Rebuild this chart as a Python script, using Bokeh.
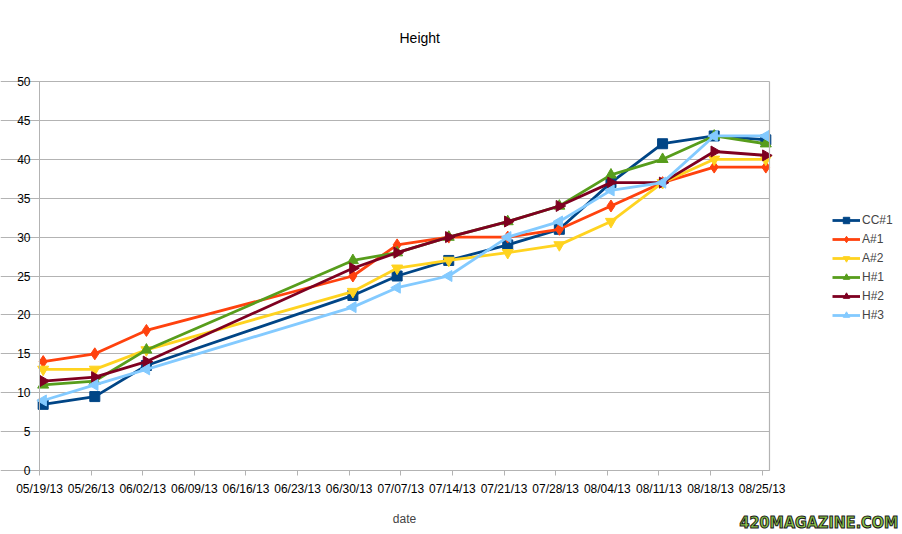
import pandas as pd
from bokeh.plotting import figure
from bokeh.models import (FixedTicker, DatetimeTickFormatter, Legend, LegendItem,
                          Range1d, Label, LinearAxis, BoxAnnotation)
from bokeh.embed import file_html
from bokeh.resources import INLINE

# ---- data ----
dates = ["2013-05-19 12:00", "2013-05-26 12:00", "2013-06-02 12:00", "2013-06-30 12:00",
         "2013-07-06 12:00", "2013-07-13 12:00", "2013-07-21 12:00", "2013-07-28 12:00",
         "2013-08-04 12:00", "2013-08-11 12:00", "2013-08-18 12:00", "2013-08-25 12:00"]
cc1 = [8.5, 9.5, 13.5, 22.5, 25, 27, 29, 31, 37, 42, 43, 42.5]
a1 = [14, 15, 18, 25, 29, 30, 30, 31, 34, 37, 39, 39]
a2 = [13, 13, 15.5, 23, 26, 27, 28, 29, 32, 37, 40, 40]
h1 = [11, 11.5, 15.5, 27, 28, 30, 32, 34, 38, 40, 43, 42]
h2 = [11.5, 12, 14, 26, 28, 30, 32, 34, 37, 37, 41, 40.5]
h3 = [9, 11, 13, 21, 23.5, 25, 30, 32, 36, 37, 43, 43]
series_names = ["CC#1", "A#1", "A#2", "H#1", "H#2", "H#3"]
tick_dates = ["2013-05-19", "2013-05-26", "2013-06-02", "2013-06-09", "2013-06-16",
              "2013-06-23", "2013-06-30", "2013-07-07", "2013-07-14", "2013-07-21",
              "2013-07-28", "2013-08-04", "2013-08-11", "2013-08-18", "2013-08-25"]
y_ticks = [0, 5, 10, 15, 20, 25, 30, 35, 40, 45, 50]
x_start, x_end = "2013-05-19", "2013-08-26"
y_start, y_end = 0, 50

colors = ["#004586", "#ff420e", "#ffd320", "#579d1c", "#7e0021", "#83caff"]
markers = [("square", 0.0, 10), ("diamond", 0.0, 12), ("inverted_triangle", 0.0, 11),
           ("triangle", 0.0, 11), ("triangle", -1.5708, 11), ("triangle", 1.5708, 11)]

x = pd.to_datetime(dates)
FONT = "Liberation Sans"
GRID = "#b3b3b3"

# ---- layout geometry (pixels) ----
W, H = 902, 534
PL, PR, PT, PB = 39, 769, 81, 470          # plot-area box inside the canvas
d0, d1 = pd.Timestamp(x_start), pd.Timestamp(x_end)
days_per_px = (d1 - d0) / (PR - PL)
units_per_px = (y_end - y_start) / (PB - PT)
xr = Range1d(d0 - days_per_px * PL, d1 + days_per_px * (W - PR))
yr = Range1d(y_start - units_per_px * (H - PB), y_end + units_per_px * PT)

p = figure(width=W, height=H, output_backend="svg", toolbar_location=None,
           x_axis_type="datetime", x_range=xr, y_range=yr,
           min_border_left=0, min_border_right=0, min_border_top=0, min_border_bottom=0)
p.title.text = ""
p.outline_line_color = None
p.background_fill_color = "white"
p.border_fill_color = "white"
p.xgrid.grid_line_color = None
p.ygrid.grid_line_color = GRID
p.ygrid.ticker = FixedTicker(ticks=y_ticks)

ms = lambda d: pd.Timestamp(d).value / 1e6

p.yaxis.ticker = FixedTicker(ticks=y_ticks)
p.yaxis.bounds = (y_start, y_end)
p.yaxis.fixed_location = ms(x_start)
p.xaxis.ticker = FixedTicker(ticks=[ms(d) for d in tick_dates])
p.xaxis.formatter = DatetimeTickFormatter(days="%m/%d/%y", months="%m/%d/%y", hours="%m/%d/%y")
p.xaxis.bounds = (ms(x_start), ms(x_end))
p.xaxis.fixed_location = y_start
for ax in (p.xaxis, p.yaxis):
    ax.axis_line_color = GRID
    ax.major_tick_line_color = GRID
    ax.minor_tick_line_color = None
    ax.major_tick_out = 5
    ax.major_tick_in = 0
    ax.major_label_text_font = FONT
    ax.major_label_text_font_size = "12px"
    ax.major_label_text_color = "#000000"
p.yaxis.major_label_standoff = 4
p.xaxis.major_label_standoff = 6
p.xaxis.axis_label = "date"
p.xaxis.axis_label_text_font = FONT
p.xaxis.axis_label_text_font_size = "12px"
p.xaxis.axis_label_text_font_style = "normal"
p.xaxis.axis_label_standoff = 13

# right border of the plot area
rax = LinearAxis(ticker=FixedTicker(ticks=[]), fixed_location=ms(x_end), bounds=(y_start, y_end),
                 axis_line_color=GRID, axis_line_width=1.2, major_tick_line_color=None,
                 minor_tick_line_color=None, major_label_text_font_size="0px")
p.add_layout(rax, "right")

# hide grid lines beyond the plot area
p.add_layout(BoxAnnotation(left=ms(x_end), fill_color="white", fill_alpha=1.0,
                           line_color=None, level="underlay"))

items = []
for name, ys, c, (m, ang, sz) in zip(series_names, [cc1, a1, a2, h1, h2, h3], colors, markers):
    ln = p.line(x, ys, line_color=c, line_width=2.8)
    sc = p.scatter(x, ys, marker=m, angle=ang, size=sz, fill_color=c, line_color=c)
    items.append(LegendItem(label=name, renderers=[ln, sc]))

legend = Legend(items=items, location=(832, H - 323), orientation="vertical",
                glyph_width=28, glyph_height=16, label_height=16, spacing=3,
                label_standoff=2, padding=0, margin=0,
                border_line_color=None, background_fill_alpha=0,
                label_text_font=FONT, label_text_font_size="12px")
p.add_layout(legend, "center")

p.add_layout(Label(x=399, y=H - 37, x_units="screen", y_units="screen", text="Height",
                   text_baseline="middle", text_font=FONT, text_font_size="14px",
                   text_color="#000000"))

p.add_layout(Label(x=739, y=3, x_units="screen", y_units="screen", text="420MAGAZINE.COM",
                   text_font="DejaVu Sans Condensed", text_font_style="bold", text_font_size="16px",
                   text_color="#8fc94a", text_outline_color="#1a1a1a"))

open("out.html", "w").write(file_html(p, INLINE))
